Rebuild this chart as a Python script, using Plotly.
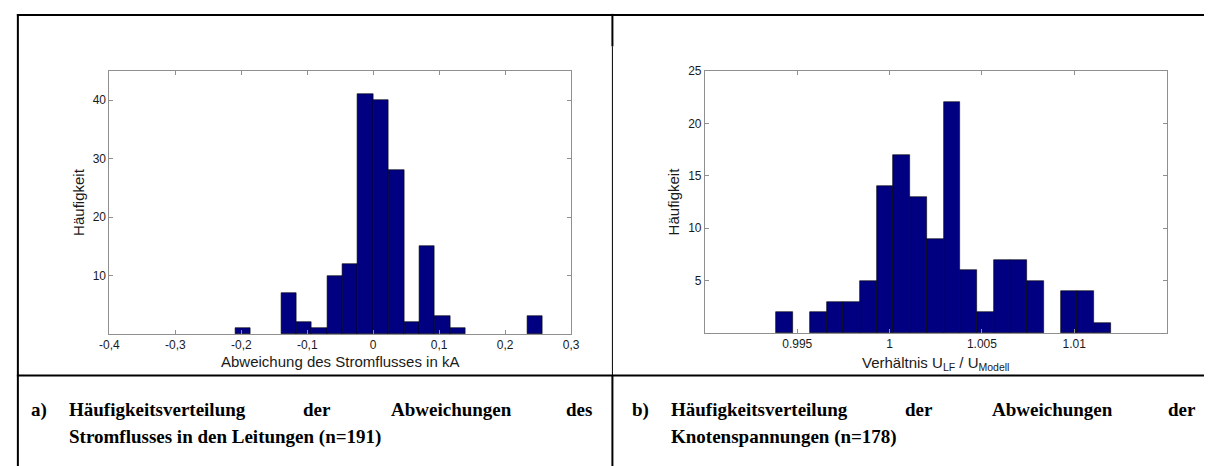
import plotly.graph_objects as go

# Panel a): deviation of line current flow in kA (histogram bins)
strom_bin_centers = [-0.1980, -0.1282, -0.1049, -0.0816, -0.0583, -0.0350, -0.0117,
                     0.0117, 0.0350, 0.0583, 0.0816, 0.1049, 0.1282, 0.2447]
strom_counts = [1, 7, 2, 1, 10, 12, 41, 40, 28, 2, 15, 3, 1, 3]
strom_bin_width = 0.0233
strom_xticks = [-0.4, -0.3, -0.2, -0.1, 0.0, 0.1, 0.2, 0.3]
strom_xticklabels = ["-0,4", "-0,3", "-0,2", "-0,1", "0", "0,1", "0,2", "0,3"]
strom_yticks = [10, 20, 30, 40]

# Panel b): ratio of node voltages U_LF / U_Modell (histogram bins)
spannung_bin_centers = [0.99432, 0.99613, 0.99704, 0.99794, 0.99885, 0.99975,
                        1.00066, 1.00156, 1.00247, 1.00337, 1.00428, 1.00518,
                        1.00609, 1.00699, 1.00790, 1.00971, 1.01061, 1.01152]
spannung_counts = [2, 2, 3, 3, 5, 14, 17, 13, 9, 22, 6, 2, 7, 7, 5, 4, 4, 1]
spannung_bin_width = 0.000905
spannung_xticks = [0.995, 1.0, 1.005, 1.01]
spannung_xticklabels = ["0.995", "1", "1.005", "1.01"]
spannung_yticks = [5, 10, 15, 20, 25]

W, H = 1213, 466
BAR_FILL = "rgb(0,0,128)"
AXIS_GRAY = "#8f8f8f"
SANS = "Liberation Sans, Arial, sans-serif"
SERIF = "Liberation Serif, Times New Roman, serif"


def px(x):
    return x / W


def py(y):
    return 1 - y / H


fig = go.Figure()
fig.add_trace(go.Bar(
    x=strom_bin_centers, y=strom_counts, width=strom_bin_width,
    marker=dict(color=BAR_FILL, line=dict(color="black", width=0.6)),
    xaxis="x", yaxis="y", showlegend=False, hoverinfo="x+y",
))
fig.add_trace(go.Bar(
    x=spannung_bin_centers, y=spannung_counts, width=spannung_bin_width,
    marker=dict(color=BAR_FILL, line=dict(color="black", width=0.6)),
    xaxis="x2", yaxis="y2", showlegend=False, hoverinfo="x+y",
))

axis_common = dict(
    showgrid=False, zeroline=False, showline=True, linecolor=AXIS_GRAY, linewidth=1,
    mirror="ticks", ticks="inside", ticklen=4, tickcolor=AXIS_GRAY, tickwidth=1,
    tickfont=dict(family=SANS, size=12, color="#1a1a1a"),
)
title_font = dict(family=SANS, size=15, color="#1a1a1a")

LEFT_X = (101, 570)
RIGHT_X = (706, 1175)

fig.update_layout(
    width=W, height=H,
    margin=dict(l=0, r=0, t=0, b=0),
    paper_bgcolor="white", plot_bgcolor="white",
    bargap=0,
    xaxis=dict(axis_common, domain=[px(LEFT_X[0]), px(LEFT_X[1])], range=[-0.4, 0.3],
               tickvals=strom_xticks, ticktext=strom_xticklabels, anchor="y"),
    yaxis=dict(axis_common, domain=[py(332), py(65)], range=[0, 45],
               tickvals=strom_yticks,
               title=dict(text="Häufigkeit", font=title_font, standoff=4),
               anchor="x"),
    xaxis2=dict(axis_common, domain=[px(RIGHT_X[0]), px(RIGHT_X[1])], range=[0.99, 1.015],
                tickvals=spannung_xticks, ticktext=spannung_xticklabels, anchor="y2"),
    yaxis2=dict(axis_common, domain=[py(331), py(65)], range=[0, 25],
                tickvals=spannung_yticks,
                title=dict(text="Häufigkeit", font=title_font, standoff=4),
                anchor="x2"),
)

# x-axis titles, set just below the tick labels
fig.add_annotation(text="Abweichung des Stromflusses in kA", xref="paper", yref="paper",
                   x=px(sum(LEFT_X) / 2), y=py(360), xanchor="center", yanchor="middle",
                   showarrow=False, font=title_font)
fig.add_annotation(text="Verhältnis U<sub>LF</sub> / U<sub>Modell</sub>", xref="paper", yref="paper",
                   x=px(sum(RIGHT_X) / 2), y=py(362), xanchor="center", yanchor="middle",
                   showarrow=False, font=title_font)

# Table frame around the two figure cells and their captions
frame = [
    (7, 8, W, 8, 2),        # top rule
    (8, 7, 8, H, 2),        # left rule
    (7, 374, W, 374, 2),    # rule between figures and captions
    (612, 7, 612, 40, 2),   # column divider, upper part
    (612, 40, 612, 374, 1),
    (612, 374, 612, H, 2),
]
for x0, y0, x1, y1, w in frame:
    fig.add_shape(type="line", xref="paper", yref="paper",
                  x0=px(x0), y0=py(y0), x1=px(x1), y1=py(y1),
                  line=dict(color="black", width=w))

# Justified captions, placed word by word
cap_font = dict(family=SERIF, size=19, color="black")
line1_y, line2_y = 409, 437
captions = [
    ("a)", 19, line1_y, "left"),
    ("Häufigkeitsverteilung", 58, line1_y, "left"),
    ("der", 296, line1_y, "left"),
    ("Abweichungen", 385, line1_y, "left"),
    ("des", 593, line1_y, "right"),
    ("Stromflusses in den Leitungen (n=191)", 58, line2_y, "left"),
    ("b)", 630, line1_y, "left"),
    ("Häufigkeitsverteilung", 669, line1_y, "left"),
    ("der", 907, line1_y, "left"),
    ("Abweichungen", 996, line1_y, "left"),
    ("der", 1207, line1_y, "right"),
    ("Knotenspannungen (n=178)", 669, line2_y, "left"),
]
for text, x, y, anchor in captions:
    fig.add_annotation(text="<b>%s</b>" % text, xref="paper", yref="paper",
                       x=px(x), y=py(y), xanchor=anchor, yanchor="middle",
                       showarrow=False, font=cap_font)

fig.write_html("out.html")
